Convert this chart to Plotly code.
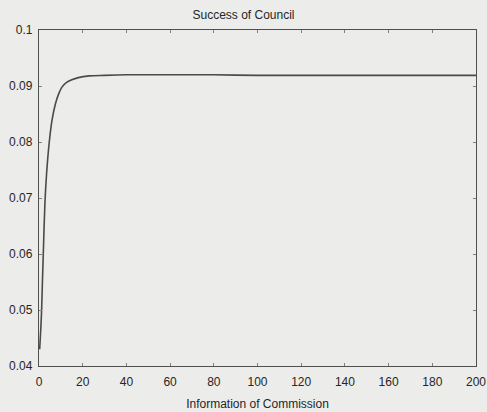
import plotly.graph_objects as go

# Council success as a function of commission information
info = [0.3, 0.8, 1.2, 1.6, 2.0, 2.7, 3.5, 4.7, 6.0, 7.5, 9.0, 10.5, 12.5, 15,
        18, 23, 30, 40, 60, 80, 100, 120, 140, 160, 180, 200]
success = [0.0430, 0.0465, 0.0500, 0.0555, 0.0605, 0.0690, 0.0745, 0.0800, 0.0840,
           0.0868, 0.0886, 0.0898, 0.0906, 0.0911, 0.0915, 0.0918, 0.0919, 0.0920,
           0.0920, 0.0920, 0.0919, 0.0919, 0.0919, 0.0919, 0.0919, 0.0919]

x_ticks = [0, 20, 40, 60, 80, 100, 120, 140, 160, 180, 200]
x_labels = ["0", "20", "40", "60", "80", "100", "120", "140", "160", "180", "200"]
y_ticks = [0.04, 0.05, 0.06, 0.07, 0.08, 0.09, 0.1]
y_labels = ["0.04", "0.05", "0.06", "0.07", "0.08", "0.09", "0.1"]

bg = "#ececea"
ink = "#262626"
font = dict(family="Liberation Sans, Arial", size=12, color=ink)

fig = go.Figure()
fig.add_trace(go.Scatter(
    x=info, y=success, mode="lines",
    line=dict(color="#4a4a4a", width=1.6, shape="spline", smoothing=0.8),
    hoverinfo="skip", showlegend=False,
))

axis_common = dict(
    showgrid=False, zeroline=False, showline=True, linecolor="#505050",
    linewidth=1.3, mirror="allticks", ticks="inside", ticklen=3,
    tickcolor="#808080", tickfont=font, automargin=False,
)

fig.update_layout(
    width=487, height=412,
    margin=dict(l=39, r=11, t=30, b=46),
    paper_bgcolor=bg, plot_bgcolor=bg,
    title=dict(text="Success of Council", x=0.5, xanchor="center", y=0.975, yanchor="top",
               font=font),
    xaxis=dict(range=[0, 200], tickvals=x_ticks, ticktext=x_labels,
               ticklabelstandoff=4,
               title=dict(text="Information of Commission", standoff=12, font=font),
               **axis_common),
    yaxis=dict(range=[0.04, 0.1], tickvals=y_ticks, ticktext=y_labels,
               ticklabelstandoff=3, **axis_common),
)

fig.write_html("out.html")
